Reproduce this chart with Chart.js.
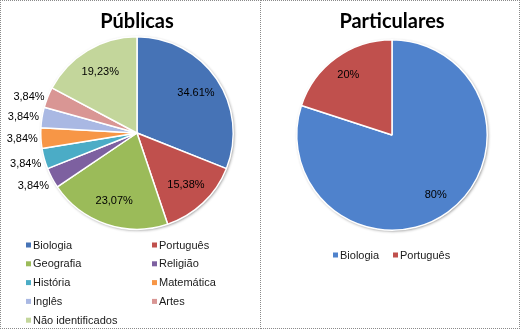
<!DOCTYPE html>
<html>
<head>
<meta charset="utf-8">
<script src="https://cdn.jsdelivr.net/npm/chart.js@4.4.1/dist/chart.umd.min.js"></script>
<style>
  body { margin: 0; background: #fff; }
  #wrap { position: relative; width: 520px; height: 330px; }
  .panel { position: absolute; top: 0; width: 260px; height: 330px; }
  .frame { position: absolute; border: 1px dotted #8a8a8a; box-sizing: border-box; pointer-events: none; }
</style>
</head>
<body>
<div id="wrap">
  <div class="panel" style="left:0"><canvas id="publicChart" width="260" height="330"></canvas></div>
  <div class="panel" style="left:260px"><canvas id="privateChart" width="260" height="330"></canvas></div>
  <div class="frame" style="left:0;top:0;width:261px;height:329px"></div>
  <div class="frame" style="left:260px;top:0;width:260px;height:329px"></div>
</div>
<script>
// Públicas
const publicLabels = ['Biologia', 'Português', 'Geografia', 'Religião', 'História',
                      'Matemática', 'Inglês', 'Artes', 'Não identificados'];
const publicPercents = ['34.61', '15,38', '23,07', '3,84', '3,84', '3,84', '3,84', '3,84', '19,23'];
const publicColors = ['#4673b6', '#c0504d', '#9bbb59', '#7d60a0', '#4bacc6',
                      '#f79646', '#a9b8e3', '#d99694', '#c3d69b'];

// Particulares
const privateLabels = ['Biologia', 'Português'];
const privatePercents = ['80', '20'];
const privateColors = ['#4f82cc', '#c0504d'];

const toNumber = s => parseFloat(s.replace(',', '.'));

// title drawn at a fixed spot above the pie
const panelTitle = {
  id: 'panelTitle',
  afterDraw(chart, args, opts) {
    const ctx = chart.ctx;
    ctx.save();
    ctx.font = 'bold 20px Lato, "Open Sans", sans-serif';
    ctx.fillStyle = '#000';
    ctx.textAlign = 'center';
    ctx.textBaseline = 'alphabetic';
    ctx.fillText(opts.text, opts.x, opts.y);
    ctx.restore();
  }
};

// soft shadow under the whole pie
const pieShadow = {
  id: 'pieShadow',
  beforeDatasetsDraw(chart) {
    const arc = chart.getDatasetMeta(0).data[0];
    if (!arc) return;
    const ctx = chart.ctx;
    ctx.save();
    ctx.shadowColor = 'rgba(0,0,0,0.45)';
    ctx.shadowBlur = 3;
    ctx.shadowOffsetX = 1;
    ctx.shadowOffsetY = 1;
    ctx.fillStyle = '#bbb';
    ctx.beginPath();
    ctx.arc(arc.x, arc.y, arc.outerRadius, 0, Math.PI * 2);
    ctx.fill();
    ctx.restore();
  }
};

// percentage labels: inside for big slices, outside (right aligned) for small ones
const sliceLabels = {
  id: 'sliceLabels',
  afterDatasetsDraw(chart, args, opts) {
    const ctx = chart.ctx;
    const texts = opts.texts;
    ctx.save();
    ctx.font = '11px "Liberation Sans", Arial, sans-serif';
    ctx.fillStyle = '#000';
    ctx.textBaseline = 'middle';
    chart.getDatasetMeta(0).data.forEach((arc, i) => {
      const mid = (arc.startAngle + arc.endAngle) / 2;
      const dx = Math.cos(mid), dy = Math.sin(mid);
      const value = chart.data.datasets[0].data[i];
      const text = texts[i] + '%';
      if (value < 10) {
        ctx.textAlign = 'right';
        const x = arc.x + dx * arc.outerRadius - 3;
        const y = arc.y + dy * arc.outerRadius + (dy > 0 ? dy * 18 : 0);
        ctx.fillText(text, x, y);
      } else {
        ctx.textAlign = 'center';
        const r = arc.outerRadius * opts.radius;
        ctx.fillText(text, arc.x + dx * r, arc.y + dy * r);
      }
    });
    ctx.restore();
  }
};

// legend laid out on a fixed grid
const gridLegend = {
  id: 'gridLegend',
  afterDraw(chart, args, opts) {
    const ctx = chart.ctx;
    const colors = chart.data.datasets[0].backgroundColor;
    ctx.save();
    ctx.font = '11px "Liberation Sans", Arial, sans-serif';
    ctx.textBaseline = 'middle';
    ctx.textAlign = 'left';
    chart.data.labels.forEach((label, i) => {
      const col = i % opts.columns.length;
      const row = Math.floor(i / opts.columns.length);
      const x = opts.columns[col];
      const y = opts.top + row * opts.rowHeight;
      ctx.fillStyle = colors[i];
      ctx.fillRect(x, y - 2.5, 5, 5);
      ctx.fillStyle = '#1a1a1a';
      ctx.fillText(label, x + 7, y + 0.5);
    });
    ctx.restore();
  }
};

function makePie(id, labels, percents, colors, padding, extra) {
  return new Chart(document.getElementById(id), {
    type: 'pie',
    data: {
      labels: labels,
      datasets: [{
        data: percents.map(toNumber),
        backgroundColor: colors,
        borderColor: '#ffffff',
        borderWidth: 1.5,
        hoverOffset: 0
      }]
    },
    options: {
      responsive: false,
      animation: false,
      layout: { padding: padding },
      plugins: {
        legend: { display: false },
        tooltip: { enabled: false },
        panelTitle: extra.title,
        sliceLabels: { texts: percents, radius: extra.labelRadius },
        gridLegend: extra.legend
      }
    },
    plugins: [pieShadow, sliceLabels, gridLegend, panelTitle]
  });
}

makePie('publicChart', publicLabels, publicPercents, publicColors,
  { left: 40, top: 36, right: 26, bottom: 100 },
  {
    title: { text: 'Públicas', x: 137, y: 28 },
    labelRadius: 0.74,
    legend: { columns: [26, 152], top: 245, rowHeight: 18.8 }
  });

makePie('privateChart', privateLabels, privatePercents, privateColors,
  { left: 36, top: 39, right: 32, bottom: 99 },
  {
    title: { text: 'Particulares', x: 132, y: 28 },
    labelRadius: 0.78,
    legend: { columns: [73, 133], top: 255, rowHeight: 18 }
  });
</script>
</body>
</html>
